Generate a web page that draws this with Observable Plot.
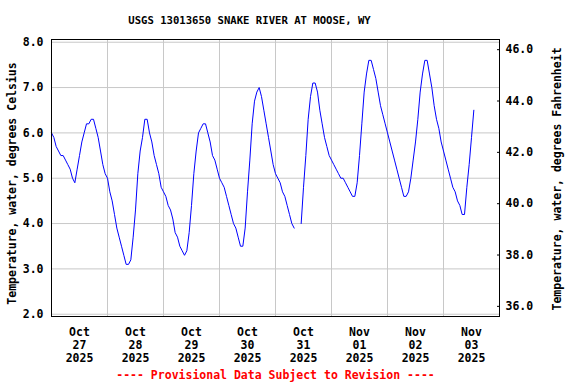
<!DOCTYPE html>
<html><head><meta charset="utf-8">
<script src="https://cdn.jsdelivr.net/npm/d3@7"></script>
<script src="https://cdn.jsdelivr.net/npm/@observablehq/plot@0.6"></script>
<style>
html,body{margin:0;padding:0;background:#fff;}
#chart{width:576px;height:384px;}
</style></head><body><div id="chart"></div>
<script>
const title = "USGS 13013650 SNAKE RIVER AT MOOSE, WY";
const yLabelLeft = "Temperature, water, degrees Celsius";
const yLabelRight = "Temperature, water, degrees Fahrenheit";
const footer = "---- Provisional Data Subject to Revision ----";

// hourly readings (deg C) starting at midnight of each day; null = missing
const dayStarts = ["2025-10-27","2025-10-28","2025-10-29","2025-10-30","2025-10-31","2025-11-01","2025-11-02","2025-11-03"];
const oct27 = [6.0,5.9,5.7,5.6,5.5,5.5,5.4,5.3,5.2,5.0,4.9,5.2,5.5,5.8,6.0,6.2,6.2,6.3,6.3,6.1,5.9,5.6,5.3,5.1];
const oct28 = [5.0,4.7,4.5,4.2,3.9,3.7,3.5,3.3,3.1,3.1,3.2,3.7,4.3,5.1,5.6,5.9,6.3,6.3,6.0,5.8,5.5,5.3,5.1,4.8];
const oct29 = [4.7,4.6,4.4,4.3,4.1,3.8,3.7,3.5,3.4,3.3,3.4,3.8,4.4,5.1,5.6,6.0,6.1,6.2,6.2,6.0,5.8,5.5,5.4,5.2];
const oct30 = [5.0,4.9,4.8,4.6,4.4,4.2,4.0,3.9,3.7,3.5,3.5,3.9,4.7,5.4,6.2,6.7,6.9,7.0,6.8,6.5,6.2,5.9,5.6,5.3];
const oct31 = [5.1,5.0,4.9,4.7,4.6,4.4,4.2,4.0,3.9,null,null,4.0,4.8,5.5,6.3,6.8,7.1,7.1,6.9,6.5,6.2,5.9,5.7,5.5];
const nov01 = [5.4,5.3,5.2,5.1,5.0,5.0,4.9,4.8,4.7,4.6,4.6,4.9,5.5,6.2,6.9,7.3,7.6,7.6,7.4,7.2,6.9,6.6,6.4,6.2];
const nov02 = [6.0,5.8,5.6,5.4,5.2,5.0,4.8,4.6,4.6,4.7,5.0,5.4,5.8,6.3,6.9,7.3,7.6,7.6,7.3,7.0,6.6,6.3,6.1,5.8];
const nov03 = [5.6,5.4,5.2,5.0,4.8,4.7,4.5,4.4,4.2,4.2,4.8,5.3,5.9,6.5];

const celsiusTicks = [2,3,4,5,6,7,8];
const fahrenheitTicks = [36,38,40,42,44,46];
const xTickMonths = ["Oct","Oct","Oct","Oct","Oct","Nov","Nov","Nov"];
const xTickDays = ["27","28","29","30","31","01","02","03"];
const xTickYears = ["2025","2025","2025","2025","2025","2025","2025","2025"];
const xDomainDays = ["2025-10-27","2025-11-04"];

const series = [oct27,oct28,oct29,oct30,oct31,nov01,nov02,nov03];
const data = [];
series.forEach((vals,i)=>{
  const t0 = new Date(dayStarts[i]).getTime();
  vals.forEach((v,h)=>data.push({date:new Date(t0+h*3600e3), temp: v==null?NaN:v}));
});
const midnights = dayStarts.slice(1).map(d=>new Date(d));
const xTicks = dayStarts.map((d,i)=>({date:new Date(new Date(d).getTime()+12*3600e3), label:`${xTickMonths[i]}\n${xTickDays[i]}\n${xTickYears[i]}`}));

const yDomain = [1.95, 8.06];
const cToF = c => c*1.8+32;
// right (Fahrenheit) axis spans the frame: its domain maps onto the full frame
const fPos = d3.scaleLinear([cToF(2), cToF(8)], [1.947, 8.062]);

const font = "DejaVu Sans Mono, monospace";
const chart = Plot.plot({
  width:576, height:384,
  marginLeft:51, marginRight:77, marginTop:39, marginBottom:68,
  style:{fontFamily:font, fontSize:"11.5px", fontWeight:"bold", color:"#000", background:"#fff"},
  x:{type:"utc", domain:xDomainDays.map(d=>new Date(d)), axis:null},
  y:{domain:yDomain, axis:null},
  marks:[
    Plot.gridY(celsiusTicks, {stroke:"#c8c8c8", strokeOpacity:1}),
    Plot.gridX(midnights, {stroke:"#c8c8c8", strokeOpacity:1}),
    Plot.lineY(data, {x:"date", y:"temp", stroke:"#0000ff", strokeWidth:1}),
    Plot.frame({stroke:"#000"}),
    Plot.axisY(celsiusTicks, {anchor:"left", tickSize:0, tickPadding:8, tickFormat:d=>d.toFixed(1), label:null}),
    Plot.axisY(fahrenheitTicks.map(f=>fPos(f)), {anchor:"right", tickSize:-3, tickPadding:9, tickFormat:d=>fPos.invert(d).toFixed(1), label:null}),
    Plot.text(xTicks, {x:"date", text:"label", frameAnchor:"bottom", lineAnchor:"top", dy:10, lineHeight:1.13}),
    Plot.text([yLabelLeft], {frameAnchor:"left", rotate:-90, dx:-39.5, dy:5.5, textAnchor:"middle", lineAnchor:"middle"}),
    Plot.text([yLabelRight], {frameAnchor:"right", rotate:-90, dx:58, dy:1, textAnchor:"middle", lineAnchor:"middle"}),
    Plot.text([title], {frameAnchor:"top", dx:-26, dy:-19, lineAnchor:"middle", fontSize:10.6}),
    Plot.text([footer], {frameAnchor:"bottom", dy:59, lineAnchor:"middle", fill:"#ff0000"})
  ]
});
document.getElementById("chart").appendChild(chart);
</script></body></html>
